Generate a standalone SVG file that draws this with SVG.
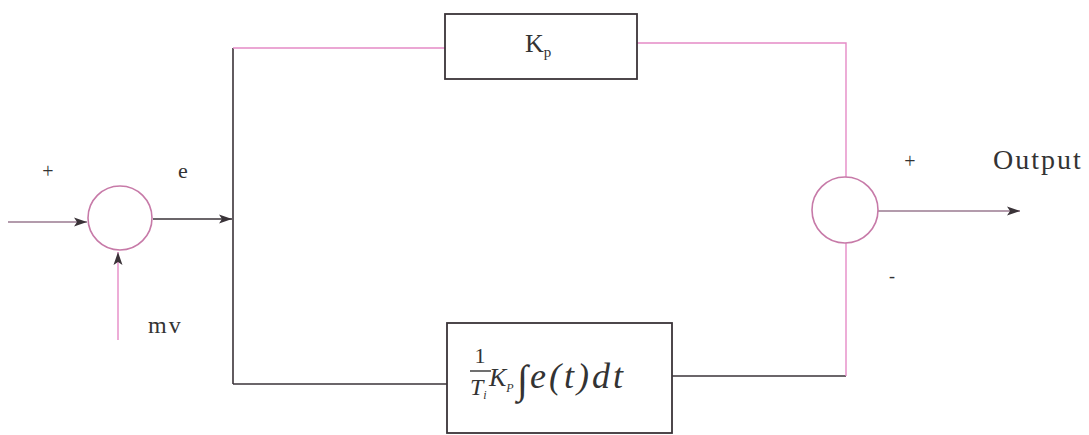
<svg xmlns="http://www.w3.org/2000/svg" width="1089" height="435" viewBox="0 0 1089 435">
<style>
.dk{stroke:#3a3338;stroke-width:1.6;fill:none}
.pk{stroke:#e58ac6;stroke-width:1.4;fill:none}
.gp{stroke:#9a7a90;stroke-width:1.6;fill:none}
.sum{stroke:#c77aa8;stroke-width:1.6;fill:#fff}
.box{stroke:#3a3338;stroke-width:1.8;fill:#fff}
text{font-family:"Liberation Serif","Times New Roman",serif;fill:#333}
</style>
<defs>
<marker id="ah" markerWidth="14" markerHeight="10" refX="13" refY="5" orient="auto" markerUnits="userSpaceOnUse">
<path d="M0,0.5 L13,5 L0,9.5 L3,5 Z" fill="#3a3338"/>
</marker>
</defs>
<rect width="1089" height="435" fill="#fff"/>
<g id="connectors">
<line class="gp" x1="8" y1="222" x2="87" y2="222" marker-end="url(#ah)"/>
<line class="dk" x1="153" y1="219" x2="232" y2="219" marker-end="url(#ah)"/>
<line class="pk" x1="118" y1="340" x2="118" y2="252" marker-end="url(#ah)"/>
<line class="dk" x1="233" y1="48" x2="233" y2="384"/>
<line class="pk" x1="233" y1="48" x2="445" y2="48"/>
<line class="dk" x1="233" y1="384" x2="447" y2="384"/>
<polyline class="pk" points="637,43 846,43 846,177"/>
<line class="dk" x1="672" y1="376" x2="846" y2="376"/>
<line class="pk" x1="846" y1="376" x2="846" y2="243"/>
<line class="gp" x1="878" y1="211" x2="1020" y2="211" marker-end="url(#ah)"/>
</g>
<g id="sum1">
<circle class="sum" cx="120" cy="218" r="32"/>
<text x="48" y="178" font-size="20" text-anchor="middle">+</text>
<text x="183" y="178" font-size="22" text-anchor="middle">e</text>
<text x="148" y="333" font-size="24" letter-spacing="2">mv</text>
</g>
<g id="kp">
<rect class="box" x="445" y="14" width="192" height="65"/>
<text x="525" y="52" font-size="26">K<tspan font-size="15" dy="5">p</tspan></text>
</g>
<g id="integral">
<rect class="box" x="447" y="323" width="225" height="110"/>
<text x="480" y="363" font-size="22" text-anchor="middle">1</text>
<line x1="470" y1="371" x2="491" y2="371" stroke="#333" stroke-width="1.4"/>
<text x="470" y="395" font-size="24" font-style="italic">T<tspan font-size="12" dy="4">i</tspan></text>
<text x="489" y="386" font-size="26" font-style="italic">K<tspan font-size="12" dy="6">P</tspan></text>
<text x="517" y="393" font-size="40">∫</text>
<text x="530" y="388" font-size="36" font-style="italic" fill="#6e3a64" letter-spacing="3">e(t)dt</text>
</g>
<g id="sum2">
<circle class="sum" cx="845" cy="210" r="33"/>
<text x="910" y="168" font-size="20" text-anchor="middle">+</text>
<text x="892" y="282" font-size="18" text-anchor="middle">-</text>
<text x="993" y="169" font-size="28" letter-spacing="2">Output</text>
</g>
</svg>
